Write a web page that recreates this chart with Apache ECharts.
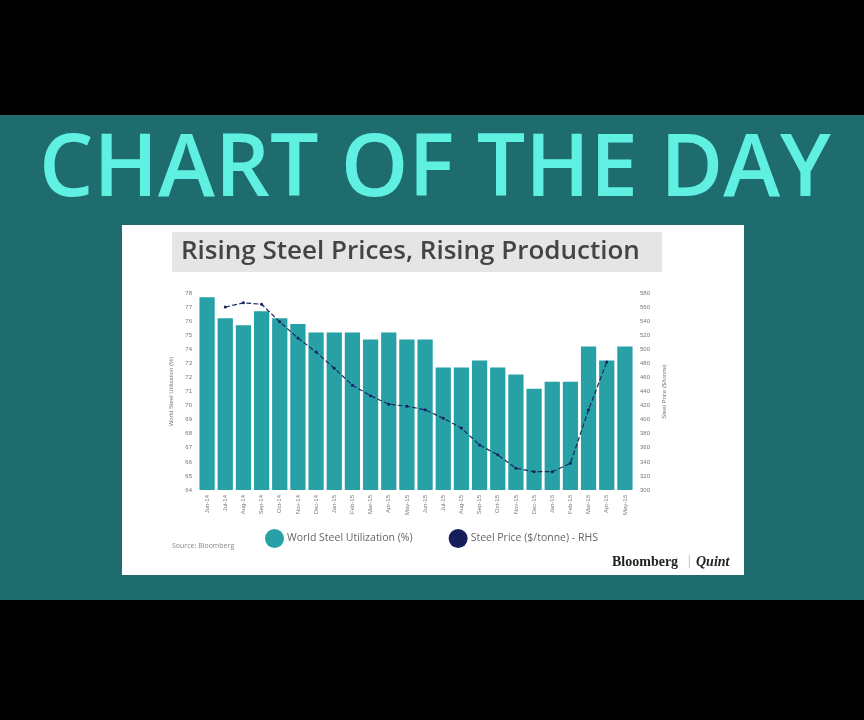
<!DOCTYPE html>
<html>
<head>
<meta charset="utf-8">
<script src="https://cdn.jsdelivr.net/npm/echarts@6/dist/echarts.min.js"></script>
<style>
  html,body{margin:0;padding:0;background:#000;}
  #main{width:864px;height:720px;}
</style>
</head>
<body>
<div id="main"></div>
<script>
// months on the x axis
const months = ['Jun-14','Jul-14','Aug-14','Sep-14','Oct-14','Nov-14','Dec-14','Jan-15','Feb-15','Mar-15','Apr-15','May-15',
  'Jun-15','Jul-15','Aug-15','Sep-15','Oct-15','Nov-15','Dec-15','Jan-16','Feb-16','Mar-16','Apr-16','May-16'];
// world steel utilization (%), left axis
const utilization = [77.7,76.2,75.7,76.7,76.2,75.8,75.2,75.2,75.2,74.7,75.2,74.7,
  74.7,72.7,72.7,73.2,72.7,72.2,71.2,71.7,71.7,74.2,73.2,74.2];
// steel price, right axis
const steelPrice = [null,560,566,564,539,516,496,473,449,434,422,419,
  414,402,388,364,350,331,326,326,338,414,482,null];

const chart = echarts.init(document.getElementById('main'));

let option = {
  backgroundColor: '#000',
  animation: false,
  graphic: [
    {type:'rect', z:-10, shape:{x:0,y:115,width:864,height:485}, style:{fill:'#1f6c6f'}},
    {type:'text', z:-9, x:435, y:171, style:{
      text:'CHART OF THE DAY', fill:'#5ff0e1', font:'600 86px "Open Sans"',
      align:'center', verticalAlign:'middle'}},
    {type:'rect', z:-9, shape:{x:122,y:225,width:622,height:350}, style:{fill:'#ffffff'}},
    {type:'rect', z:-8, shape:{x:172,y:232,width:490,height:40}, style:{fill:'#e5e5e5'}},
    {type:'text', z:-7, x:181, y:252, style:{
      text:'Rising Steel Prices, Rising Production', fill:'#444',
      font:'600 26px "Open Sans"', verticalAlign:'middle'}},
    {type:'text', z:-7, x:172, y:546, style:{
      text:'Source: Bloomberg', fill:'#888', font:'7px "Open Sans"', verticalAlign:'middle'}},
    {type:'text', z:-7, x:612, y:562, style:{
      text:'Bloomberg', fill:'#222', font:'bold 14px "Liberation Serif"', verticalAlign:'middle'}},
    {type:'text', z:-7, x:686, y:562, style:{
      text:'|', fill:'#bbb', font:'12px "Open Sans"', verticalAlign:'middle'}},
    {type:'text', z:-7, x:696, y:562, style:{
      text:'Quint', fill:'#222', font:'italic bold 14px "Liberation Serif"', verticalAlign:'middle'}}
  ],
  legend: {
    top: 524,
    left: 260,
    icon: 'circle',
    itemWidth: 19,
    itemHeight: 19,
    itemGap: 36,
    textStyle: {fontSize: 10.5, color: '#666', fontFamily: 'Open Sans', padding: [0, 0, 0, -2]},
    data: ['World Steel Utilization (%)', 'Steel Price ($/tonne) - RHS']
  },
  grid: {left: 198, right: 230, top: 293, bottom: 230},
  xAxis: {
    type: 'category',
    data: months,
    axisLine: {show: false},
    axisTick: {show: false},
    axisLabel: {rotate: 90, interval: 0, fontSize: 6, color: '#777', margin: 5}
  },
  yAxis: [
    {
      type: 'value', min: 64, max: 78, interval: 1,
      name: 'World Steel Utilization (%)', nameLocation: 'middle', nameGap: 18, nameRotate: 90,
      nameTextStyle: {fontSize: 6, color: '#777'},
      splitLine: {show: false},
      axisLabel: {fontSize: 6, color: '#777', margin: 6}
    },
    {
      type: 'value', min: 300, max: 580, interval: 20,
      name: 'Steel Price ($/tonne)', nameLocation: 'middle', nameGap: 22, nameRotate: 90,
      nameTextStyle: {fontSize: 6, color: '#777'},
      splitLine: {show: false},
      axisLabel: {fontSize: 6, color: '#777', margin: 6}
    }
  ],
  series: [
    {
      name: 'World Steel Utilization (%)',
      type: 'bar',
      data: utilization,
      barCategoryGap: '16%',
      itemStyle: {color: '#27a0a6'}
    },
    {
      name: 'Steel Price ($/tonne) - RHS',
      type: 'line',
      yAxisIndex: 1,
      data: steelPrice,
      symbol: 'circle',
      symbolSize: 3,
      itemStyle: {color: '#141f5c'},
      lineStyle: {color: '#1e2a5e', width: 1.2, type: 'dashed'}
    }
  ]
};
chart.setOption(option);
</script>
</body>
</html>
